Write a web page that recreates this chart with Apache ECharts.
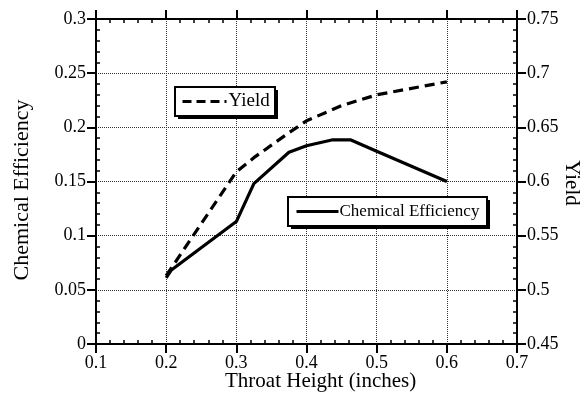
<!DOCTYPE html>
<html>
<head>
<meta charset="utf-8">
<script src="https://cdn.jsdelivr.net/npm/echarts@6/dist/echarts.min.js"></script>
<style>html,body{margin:0;padding:0;background:#fff;}#c{width:583px;height:393px;}</style>
</head>
<body>
<div id="c"></div>
<script>
var xTicks = [0.1, 0.2, 0.3, 0.4, 0.5, 0.6, 0.7];
var effTicks = [0, 0.05, 0.1, 0.15, 0.2, 0.25, 0.3];
var yieldTicks = [0.45, 0.5, 0.55, 0.6, 0.65, 0.7, 0.75];

var effX = [0.2, 0.207, 0.3, 0.325, 0.375, 0.4, 0.4375, 0.4625, 0.5, 0.6];
var effY = [0.061, 0.068, 0.113, 0.148, 0.177, 0.183, 0.1885, 0.1885, 0.178, 0.150];

var yieldX = [0.2, 0.3, 0.325, 0.375, 0.4, 0.45, 0.5, 0.6];
var yieldY = [0.513, 0.609, 0.622, 0.645, 0.656, 0.670, 0.680, 0.692];

var FONT = '"Liberation Serif","Times New Roman",serif';

function pairs(xs, ys) { return xs.map(function (x, i) { return [x, ys[i]]; }); }
function fmt(v) { return String(+(+v).toFixed(2)); }

function axisCommon(ticks, pos) {
  return {
    type: 'value',
    position: pos,
    min: ticks[0],
    max: ticks[ticks.length - 1],
    interval: +(ticks[1] - ticks[0]).toFixed(4),
    axisLine: { show: true, onZero: false, lineStyle: { color: '#000', width: 2 } },
    axisTick: { show: true, inside: false, length: 9, lineStyle: { color: '#000', width: 2 } },
    minorTick: { show: true, splitNumber: 5, length: -4, lineStyle: { color: '#000', width: 1.5 } },
    axisLabel: { show: true, color: '#000', fontFamily: FONT, fontSize: 18, margin: 10, formatter: fmt },
    splitLine: { show: false },
    minorSplitLine: { show: false }
  };
}

var xBottom = axisCommon(xTicks, 'bottom');
xBottom.splitLine = { show: true, lineStyle: { color: '#333', width: 1, type: [1, 1] } };
var xTop = axisCommon(xTicks, 'top');
xTop.axisLabel = { show: false };
var yLeft = axisCommon(effTicks, 'left');
yLeft.splitLine = { show: true, lineStyle: { color: '#333', width: 1, type: [1, 1] } };
var yRight = axisCommon(yieldTicks, 'right');

var chart = echarts.init(document.getElementById('c'), null, { renderer: 'canvas' });
chart.setOption({
  animation: false,
  backgroundColor: '#fff',
  grid: { left: 96, right: 66, top: 19, bottom: 49, containLabel: false },
  xAxis: [xBottom, xTop],
  yAxis: [yLeft, yRight],
  legend: [
    {
      z: 20,
      data: ['Yield'],
      left: 175, top: 87,
      orient: 'horizontal',
      itemWidth: 44, itemHeight: 14, itemGap: 0,
      padding: [5, 6, 5, 6],
      itemStyle: { color: 'rgba(0,0,0,0)', borderWidth: 0, opacity: 0 },
      lineStyle: { color: '#000', width: 3, type: [9, 5] },
      textStyle: { color: '#000', fontFamily: FONT, fontSize: 19, padding: [0, 0, 0, -3] },
      selectedMode: false
    },
    {
      z: 20,
      data: ['Chemical Efficiency'],
      left: 288, top: 197,
      orient: 'horizontal',
      itemWidth: 42, itemHeight: 14, itemGap: 0,
      padding: [6, 8, 6, 7],
      itemStyle: { color: 'rgba(0,0,0,0)', borderWidth: 0, opacity: 0 },
      lineStyle: { color: '#000', width: 3 },
      textStyle: { color: '#000', fontFamily: FONT, fontSize: 17, padding: [0, 0, 0, -4] },
      selectedMode: false
    }
  ],
  graphic: [
    { type: 'rect', z: 15, shape: { x: 178, y: 90, width: 100, height: 29 }, style: { fill: '#000' } },
    { type: 'rect', z: 16, shape: { x: 175, y: 87, width: 100, height: 29 }, style: { fill: '#fff', stroke: '#000', lineWidth: 2 } },
    { type: 'rect', z: 15, shape: { x: 291, y: 200, width: 199, height: 29 }, style: { fill: '#000' } },
    { type: 'rect', z: 16, shape: { x: 288, y: 197, width: 199, height: 29 }, style: { fill: '#fff', stroke: '#000', lineWidth: 2 } },
    { type: 'text', left: 225, top: 371, style: { text: 'Throat Height (inches)', fill: '#000', font: '21px ' + FONT } },
    { type: 'text', x: 22, y: 190, rotation: Math.PI / 2, style: { text: 'Chemical Efficiency', fill: '#000', font: '22px ' + FONT, align: 'center', verticalAlign: 'middle' } },
    { type: 'text', x: 572, y: 183, rotation: -Math.PI / 2, style: { text: 'Yield', fill: '#000', font: '21px ' + FONT, align: 'center', verticalAlign: 'middle' } }
  ],
  series: [
    {
      name: 'Chemical Efficiency',
      type: 'line',
      xAxisIndex: 0, yAxisIndex: 0,
      data: pairs(effX, effY),
      symbol: 'none',
      lineStyle: { color: '#000', width: 3.2 },
      itemStyle: { color: '#000' }
    },
    {
      name: 'Yield',
      type: 'line',
      xAxisIndex: 0, yAxisIndex: 1,
      data: pairs(yieldX, yieldY),
      symbol: 'none',
      lineStyle: { color: '#000', width: 3.2, type: [10, 6] },
      itemStyle: { color: '#000' }
    }
  ]
});
</script>
</body>
</html>
